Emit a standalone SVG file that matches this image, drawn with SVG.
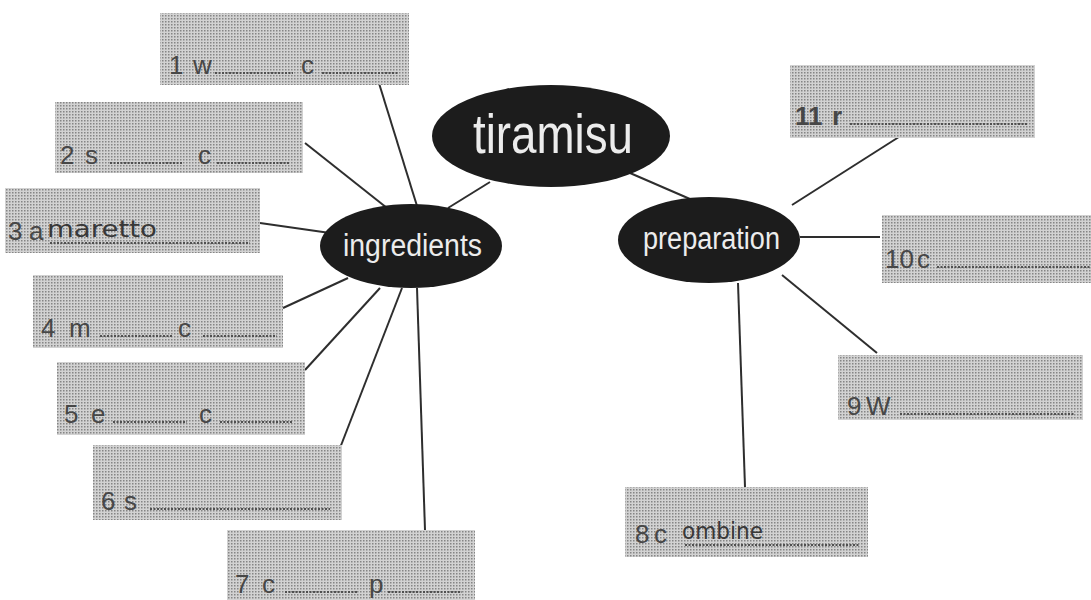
<svg xmlns="http://www.w3.org/2000/svg" width="1091" height="600" viewBox="0 0 1091 600">
<defs>
<pattern id="ht" width="3" height="3" patternUnits="userSpaceOnUse">
<rect width="3" height="3" fill="#d2d2d2"/>
<rect width="1.5" height="1.5" fill="#858585"/>
</pattern>
<style>
.box{fill:url(#ht);}
.t{font-family:"Liberation Sans",Arial,sans-serif;font-size:26px;fill:#474747;}
.hw{font-family:"DejaVu Sans",sans-serif;font-size:23px;fill:#383838;}
.dots{stroke:#505050;stroke-width:2;stroke-dasharray:2 1.5;}
.ell{fill:#1c1c1c;}
.el{font-family:"Liberation Sans",Arial,sans-serif;fill:#ececec;}
.c{stroke:#2e2e2e;stroke-width:2;fill:none;}
</style>
</defs>
<rect width="1091" height="600" fill="#ffffff"/>

<g id="connectors">
<line class="c" x1="490" y1="182" x2="448" y2="208"/>
<line class="c" x1="630" y1="173" x2="690" y2="199"/>
<line class="c" x1="378" y1="80" x2="417" y2="206"/>
<line class="c" x1="305" y1="143" x2="387" y2="208"/>
<line class="c" x1="260" y1="223" x2="330" y2="233"/>
<line class="c" x1="283" y1="308" x2="348" y2="278"/>
<line class="c" x1="305" y1="370" x2="380" y2="288"/>
<line class="c" x1="340" y1="448" x2="402" y2="288"/>
<line class="c" x1="425" y1="530" x2="417" y2="288"/>
<line class="c" x1="902" y1="135" x2="792" y2="205"/>
<line class="c" x1="800" y1="237" x2="880" y2="237"/>
<line class="c" x1="782" y1="275" x2="877" y2="353"/>
<line class="c" x1="738" y1="283" x2="745" y2="487"/>
</g>

<g id="tiramisu">
<ellipse class="ell" cx="551" cy="136" rx="119" ry="51"/>
<text class="el" x="473" y="153" font-size="56" textLength="160" lengthAdjust="spacingAndGlyphs">tiramisu</text>
</g>
<g id="ingredients">
<ellipse class="ell" cx="411" cy="246" rx="91" ry="42"/>
<text class="el" x="343" y="256" font-size="31" textLength="139" lengthAdjust="spacingAndGlyphs">ingredients</text>
</g>
<g id="preparation">
<ellipse class="ell" cx="709" cy="240" rx="91" ry="43"/>
<text class="el" x="643" y="249" font-size="31" textLength="137" lengthAdjust="spacingAndGlyphs">preparation</text>
</g>

<g id="box1">
<rect class="box" x="160" y="13" width="249" height="72"/>
<text class="t" x="169" y="74">1</text><text class="t" x="193" y="74">w</text>
<line class="dots" x1="215" y1="73" x2="293" y2="73"/>
<text class="t" x="301" y="74">c</text>
<line class="dots" x1="322" y1="73" x2="398" y2="73"/>
</g>
<g id="box2">
<rect class="box" x="55" y="102" width="248" height="71"/>
<text class="t" x="60" y="164">2</text><text class="t" x="85" y="164">s</text>
<line class="dots" x1="110" y1="163" x2="183" y2="163"/>
<text class="t" x="198" y="164">c</text>
<line class="dots" x1="217" y1="163" x2="290" y2="163"/>
</g>
<g id="box3">
<rect class="box" x="5" y="188" width="255" height="65"/>
<text class="t" x="8" y="240">3</text><text class="t" x="29" y="240">a</text>
<text class="hw" x="47" y="237" textLength="110" lengthAdjust="spacingAndGlyphs">maretto</text>
<line class="dots" x1="50" y1="243" x2="250" y2="243"/>
</g>
<g id="box4">
<rect class="box" x="33" y="275" width="250" height="73"/>
<text class="t" x="41" y="337">4</text><text class="t" x="69" y="337">m</text>
<line class="dots" x1="100" y1="336" x2="172" y2="336"/>
<text class="t" x="178" y="337">c</text>
<line class="dots" x1="203" y1="336" x2="277" y2="336"/>
</g>
<g id="box5">
<rect class="box" x="57" y="362" width="248" height="73"/>
<text class="t" x="64" y="423">5</text><text class="t" x="91" y="423">e</text>
<line class="dots" x1="113" y1="422" x2="187" y2="422"/>
<text class="t" x="199" y="423">c</text>
<line class="dots" x1="220" y1="422" x2="293" y2="422"/>
</g>
<g id="box6">
<rect class="box" x="93" y="445" width="249" height="75"/>
<text class="t" x="101" y="510">6</text><text class="t" x="124" y="510">s</text>
<line class="dots" x1="150" y1="509" x2="330" y2="509"/>
</g>
<g id="box7">
<rect class="box" x="227" y="530" width="248" height="70"/>
<text class="t" x="235" y="593">7</text><text class="t" x="262" y="593">c</text>
<line class="dots" x1="285" y1="592" x2="358" y2="592"/>
<text class="t" x="369" y="593">p</text>
<line class="dots" x1="388" y1="592" x2="462" y2="592"/>
</g>
<g id="box8">
<rect class="box" x="625" y="487" width="243" height="70"/>
<text class="t" x="635" y="543">8</text><text class="t" x="654" y="543">c</text>
<text class="hw" x="682" y="539" textLength="81" lengthAdjust="spacingAndGlyphs">ombine</text>
<line class="dots" x1="685" y1="545" x2="860" y2="545"/>
</g>
<g id="box9">
<rect class="box" x="838" y="355" width="245" height="65"/>
<text class="t" x="847" y="415">9</text><text class="t" x="866" y="415">W</text>
<line class="dots" x1="900" y1="414" x2="1075" y2="414"/>
</g>
<g id="box10">
<rect class="box" x="882" y="215" width="209" height="68"/>
<text class="t" x="885" y="268">10</text><text class="t" x="917" y="268">c</text>
<line class="dots" x1="937" y1="267" x2="1091" y2="267"/>
</g>
<g id="box11">
<rect class="box" x="790" y="65" width="245" height="73"/>
<text class="t" x="795" y="125" font-weight="bold">11</text><text class="t" x="832" y="125" font-weight="bold">r</text>
<line class="dots" x1="850" y1="124" x2="1028" y2="124"/>
</g>
</svg>
